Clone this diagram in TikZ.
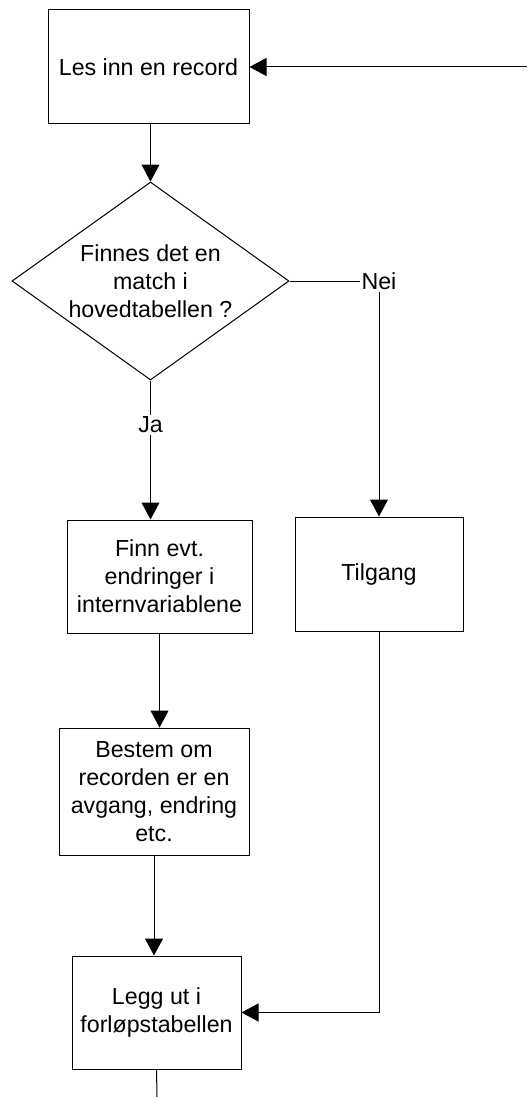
\documentclass[tikz,border=0pt]{standalone}
\usepackage{fontspec}
\setmainfont{Liberation Sans}
\usetikzlibrary{shapes.geometric,arrows.meta}

\begin{document}
\begin{tikzpicture}[x=0.5pt, y=-0.5pt, line width=0.5pt, >={Triangle[length=8.5pt,width=9pt]},
  every node/.style={font=\fontsize{11.6}{14}\selectfont},
  block/.style={rectangle, draw, align=center, inner sep=0pt},
  decision/.style={diamond, draw, aspect=1.4, align=center, inner sep=0pt, minimum width=138.5pt, minimum height=99pt},
  answer/.style={fill=white, inner sep=1pt}]
  {
  \useasboundingbox (0,0) rectangle (527,1097);
  \node[block, minimum width=100.5pt, minimum height=57pt] (read) at (148.5,67) {Les inn en record};
  \node[decision] (match) at (150.5,281) {Finnes det en\\match i\\hovedtabellen ?};
  \node[block, minimum width=92.5pt, minimum height=56.5pt] (change) at (159.5,576.5) {Finn evt.\\endringer i\\internvariablene};
  \node[block, minimum width=84pt, minimum height=57pt] (tilgang) at (379,574) {Tilgang};
  \node[block, minimum width=95pt, minimum height=63.5pt] (kind) at (154,791.5) {Bestem om\\recorden er en\\avgang, endring\\etc.};
  \node[block, minimum width=84.5pt, minimum height=56.5pt] (out) at (156.5,1012.5) {Legg ut i\\forløpstabellen};
  \coordinate (back) at (527,67);
  \coordinate (exit) at (157,1097);

  \draw[->] (back) -- (read.east);
  \draw[->] (read.south -| match.north) -- (match.north);
  \draw[->] (match.south) -- node[answer, pos=0.32] {Ja} (match.south |- change.north);
  \draw[->] (match.east) -| node[answer, pos=0.5] {Nei} (tilgang.north);
  \draw[->] (change.south) -- (change.south |- kind.north);
  \draw[->] (kind.south) -- (kind.south |- out.north);
  \draw[->] (tilgang.south) |- (out.east);
  \draw (out.south) -- (exit);
  }
\end{tikzpicture}
\end{document}
